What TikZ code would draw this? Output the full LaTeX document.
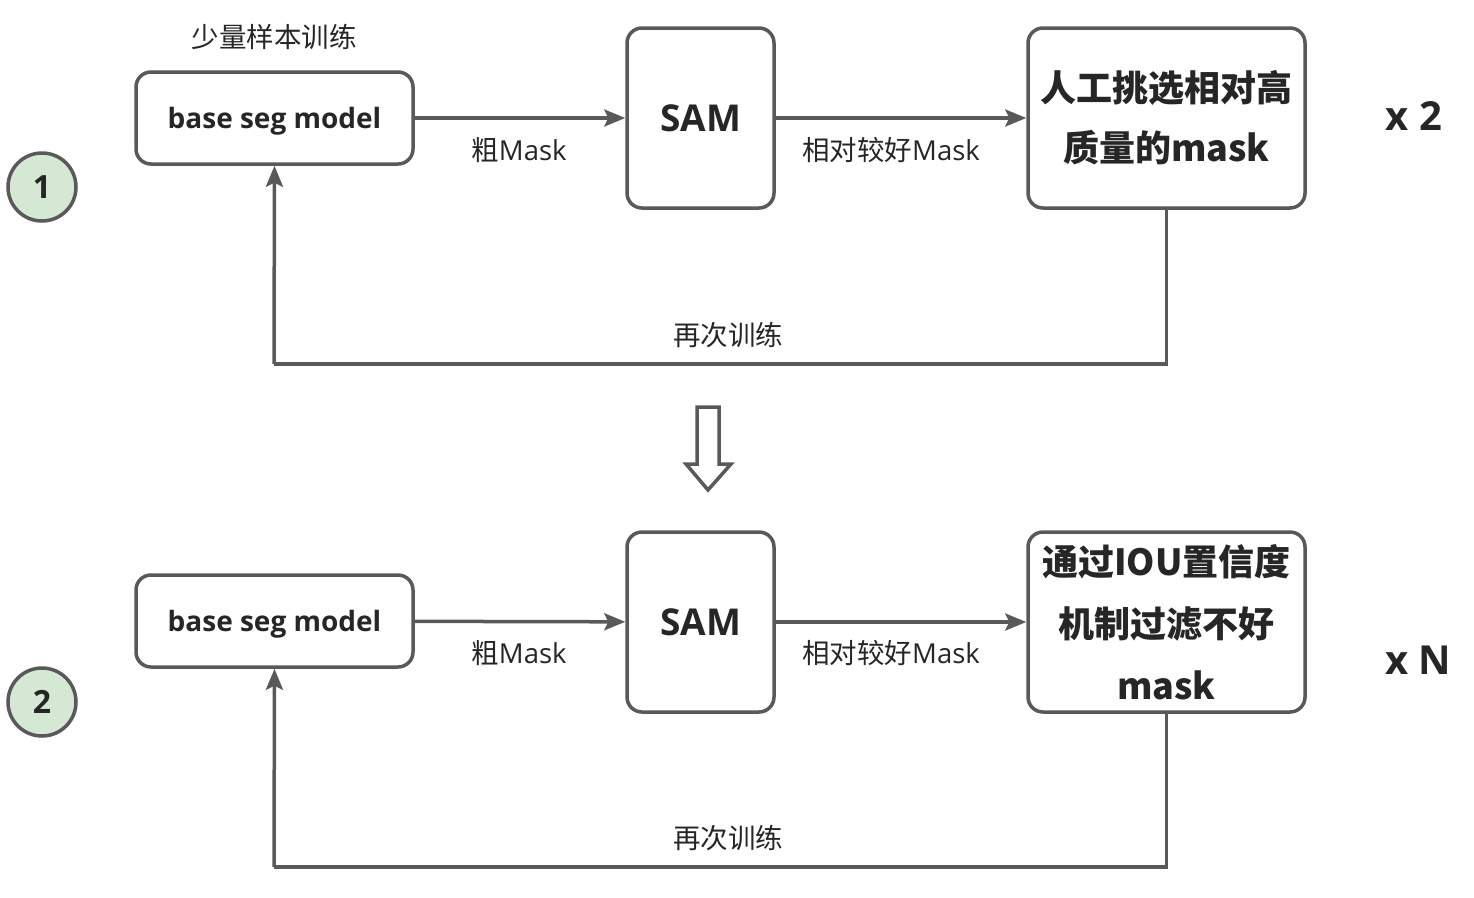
\documentclass[tikz,border=0pt]{standalone}
\usepackage{fontspec}
\setmainfont{Open Sans}
\newfontfamily\cjk{Noto Sans CJK SC}
\usetikzlibrary{arrows.meta,positioning}
\definecolor{linegray}{HTML}{595959}
\definecolor{txtgray}{HTML}{262626}
\definecolor{stepgreen}{HTML}{D5E8D4}

\begin{document}
\begin{tikzpicture}[x=1pt,y=-1pt,>={Stealth[length=21pt,width=17pt,inset=4pt]},
	box/.style={draw=linegray,line width=3.5pt,rounded corners=15pt,fill=white,text=txtgray,align=center,inner sep=0pt},
	flow/.style={draw=linegray,line width=3.5pt,->},
	back/.style={draw=linegray,line width=3.5pt},
	lbl/.style={text=txtgray,font=\fontsize{27.5}{30}\selectfont,inner sep=0pt},
	stepnum/.style={circle,draw=linegray,line width=3.5pt,fill=stepgreen,minimum size=68pt,inner sep=0pt,text=txtgray,font=\fontsize{32}{34}\selectfont\bfseries},
	times/.style={text=txtgray,font=\fontsize{40}{44}\selectfont\bfseries,inner sep=0pt}
	]
	\useasboundingbox (0,0) rectangle (1474,897);

	% row 1
	\node[stepnum] (num1) at (42,187) {1};
	\node[box,minimum width=277pt,minimum height=92pt,text height=20pt,text depth=0pt,font=\fontsize{28}{30}\selectfont\bfseries] (base1) at (274.5,118) {base seg model};
	\node[box,minimum width=147pt,minimum height=180pt,font=\fontsize{37}{40}\selectfont\bfseries] (sam1) at (700.5,118) {SAM};
	\node[box,minimum width=277pt,minimum height=180pt,font=\fontsize{36}{60}\selectfont\bfseries\cjk] (pick1) at (1166.5,118) {人工挑选相对高\\质量的mask};
	\node[times] (rep1) at (1414,116) {x 2};
	\node[lbl] (few) at (274,37) {\cjk 少量样本训练};

	\draw[flow] (base1) -- (sam1);
	\draw[flow] (sam1) -- (pick1);
	\node[lbl] (coarse1) at (519,150) {{\cjk 粗}Mask};
	\node[lbl] (good1) at (891,150) {{\cjk 相对较好}Mask};
	\coordinate (loop1) at (274,364);
	\draw[back] (pick1.south) |- (loop1);
	\draw[flow] (loop1) -- (base1.south);
	\node[lbl] (again1) at (728,335) {\cjk 再次训练};

	% hollow arrow between rows
	\draw[linegray,line width=3.5pt,line join=miter,fill=white] (697,407) -- (719,407) -- (719,464) -- (731,464) -- (708,490) -- (686,464) -- (697,464) -- cycle;

	% row 2
	\node[stepnum] (num2) at (42,702) {2};
	\node[box,minimum width=277pt,minimum height=92pt,text height=20pt,text depth=0pt,font=\fontsize{28}{30}\selectfont\bfseries] (base2) at (274.5,621) {base seg model};
	\node[box,minimum width=147pt,minimum height=180pt,font=\fontsize{37}{40}\selectfont\bfseries] (sam2) at (700.5,622) {SAM};
	\node[box,minimum width=277pt,minimum height=180pt,font=\fontsize{36}{62}\selectfont\bfseries\cjk] (filter2) at (1166.5,622) {通过IOU置信度\\机制过滤不好\\mask};
	\node[times] (rep2) at (1418,660) {x N};

	\draw[flow] (base2) -- (sam2);
	\draw[flow] (sam2) -- (filter2);
	\node[lbl] (coarse2) at (519,653) {{\cjk 粗}Mask};
	\node[lbl] (good2) at (891,653) {{\cjk 相对较好}Mask};
	\coordinate (loop2) at (274,867);
	\draw[back] (filter2.south) |- (loop2);
	\draw[flow] (loop2) -- (base2.south);
	\node[lbl] (again2) at (728,838) {\cjk 再次训练};

\end{tikzpicture}
\end{document}
